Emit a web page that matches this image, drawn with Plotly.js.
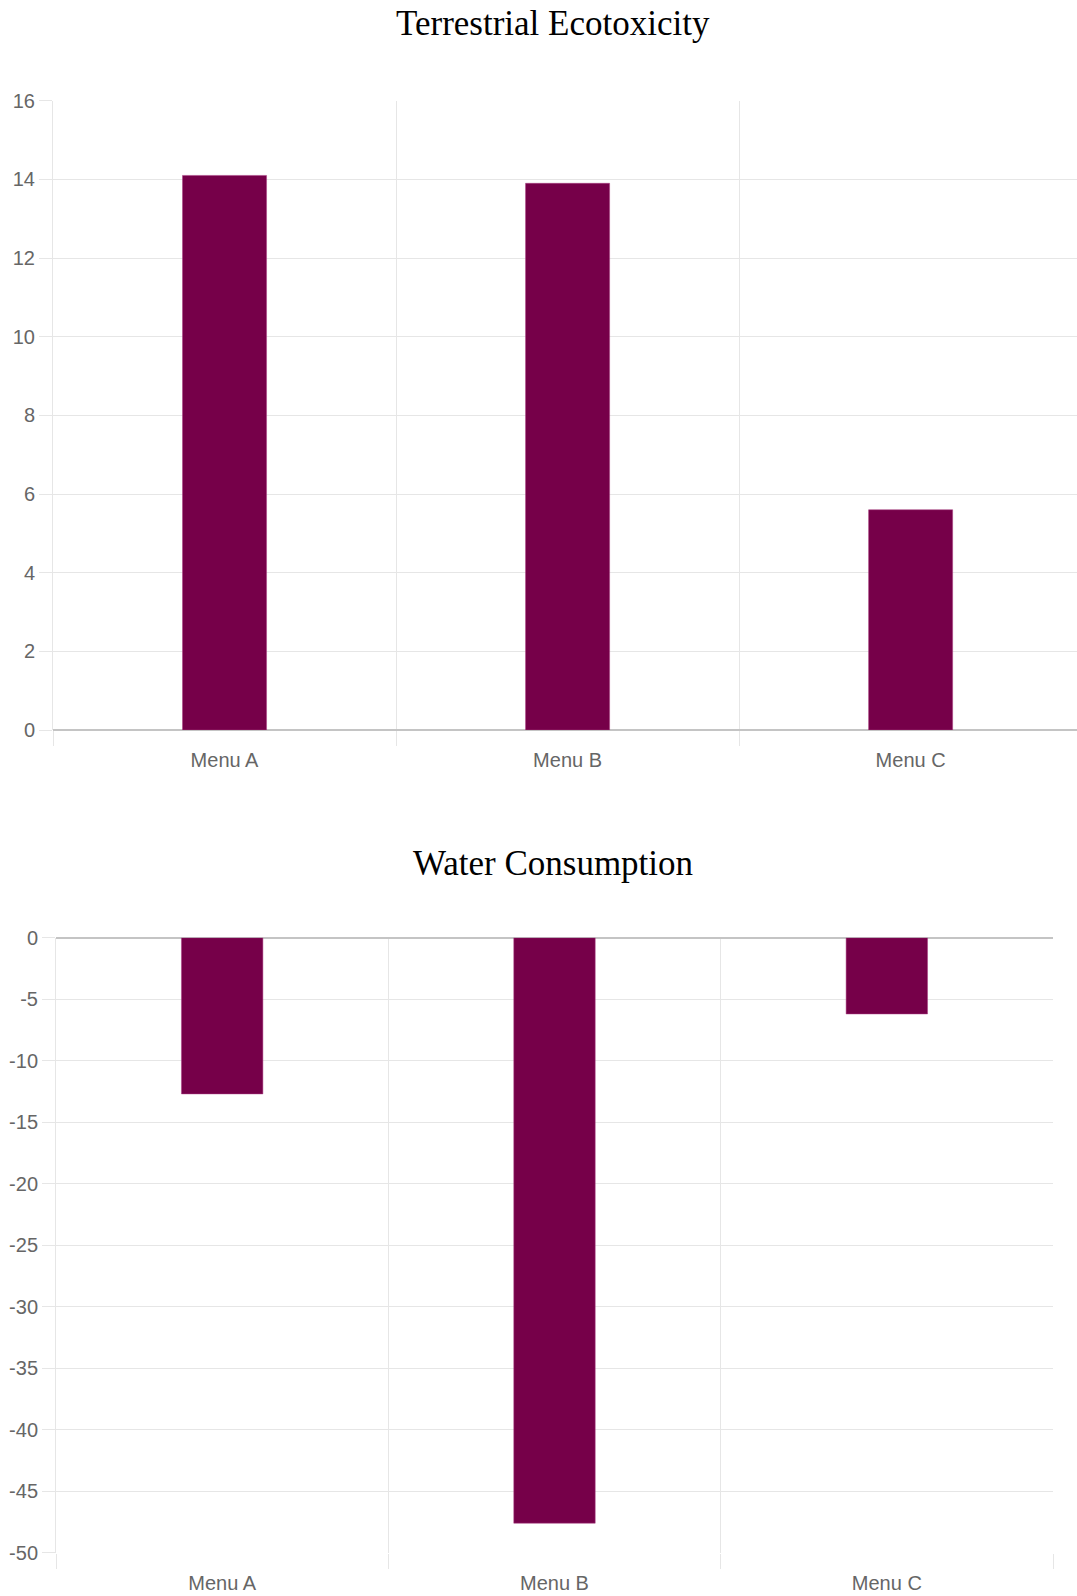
<!DOCTYPE html>
<html>
<head>
<meta charset="utf-8">
<script src="https://cdn.plot.ly/plotly-3.0.1.min.js"></script>
<style>html,body{margin:0;padding:0;background:#fff;}#chart{width:1077px;height:1596px;}</style>
</head>
<body>
<div id="chart"></div>
<script>
const categories = ["Menu A", "Menu B", "Menu C"];
const terrestrialEcotoxicity = [14.1, 13.9, 5.6];
const waterConsumption = [-12.7, -47.6, -6.2];
const chartTitles = ["Terrestrial Ecotoxicity", "Water Consumption"];
const topTickValues = [0, 2, 4, 6, 8, 10, 12, 14, 16];
const topTickLabels = ["0", "2", "4", "6", "8", "10", "12", "14", "16"];
const bottomTickValues = [0, -5, -10, -15, -20, -25, -30, -35, -40, -45, -50];
const bottomTickLabels = ["0", "-5", "-10", "-15", "-20", "-25", "-30", "-35", "-40", "-45", "-50"];

const barColor = "#760049";
const gridColor = "#e6e6e6";
const zeroColor = "#c4c4c4";
const tickFont = {family: "Liberation Sans, Arial, sans-serif", size: 20, color: "#666666"};

const traces = [
  {type: "bar", x: categories, y: terrestrialEcotoxicity, xaxis: "x", yaxis: "y",
   width: 0.245, marker: {color: barColor, line: {color: "rgba(170,60,130,0.5)", width: 1}}, hoverinfo: "x+y"},
  {type: "bar", x: categories, y: waterConsumption, xaxis: "x2", yaxis: "y2",
   width: 0.245, marker: {color: barColor, line: {color: "rgba(170,60,130,0.5)", width: 1}}, hoverinfo: "x+y"}
];

const xCommon = {
  type: "category", tickson: "boundaries", ticks: "outside", ticklen: 15, tickcolor: gridColor,
  showgrid: true, gridcolor: gridColor, gridwidth: 1, showline: false, zeroline: false,
  tickfont: tickFont, fixedrange: true, ticklabelstandoff: 16
};
const yCommon = {
  ticks: "outside", ticklen: 13, tickcolor: gridColor, showgrid: true, gridcolor: gridColor,
  gridwidth: 1, zeroline: true, zerolinecolor: zeroColor, zerolinewidth: 2,
  showline: true, linecolor: gridColor, linewidth: 1,
  tickfont: tickFont, fixedrange: true, tickmode: "array"
};

const layout = {
  width: 1077, height: 1596,
  margin: {l: 0, r: 0, t: 0, b: 0},
  paper_bgcolor: "#ffffff", plot_bgcolor: "#ffffff",
  showlegend: false,
  xaxis: Object.assign({}, xCommon, {domain: [53/1077, 1], range: [-0.5, 2.485], anchor: "y"}),
  yaxis: Object.assign({}, yCommon, {domain: [1 - 730/1596, 1 - 100.7/1596], range: [0, 16],
    tickvals: topTickValues, ticktext: topTickLabels, anchor: "x"}),
  xaxis2: Object.assign({}, xCommon, {domain: [56/1077, 1053/1077], range: [-0.5, 2.5], anchor: "y2"}),
  yaxis2: Object.assign({}, yCommon, {domain: [1 - 1552.7/1596, 1 - 937.7/1596], range: [-50, 0],
    tickvals: bottomTickValues, ticktext: bottomTickLabels, anchor: "x2"}),
  annotations: [
    {text: chartTitles[0], xref: "paper", yref: "paper", x: 553/1077, y: 1 - 23/1596,
     xanchor: "center", yanchor: "middle", showarrow: false,
     font: {family: "Liberation Serif, Times New Roman, serif", size: 35, color: "#000000"}},
    {text: chartTitles[1], xref: "paper", yref: "paper", x: 553/1077, y: 1 - 863/1596,
     xanchor: "center", yanchor: "middle", showarrow: false,
     font: {family: "Liberation Serif, Times New Roman, serif", size: 35, color: "#000000"}}
  ]
};

Plotly.newPlot("chart", traces, layout, {displayModeBar: false, staticPlot: true});
</script>
</body>
</html>
